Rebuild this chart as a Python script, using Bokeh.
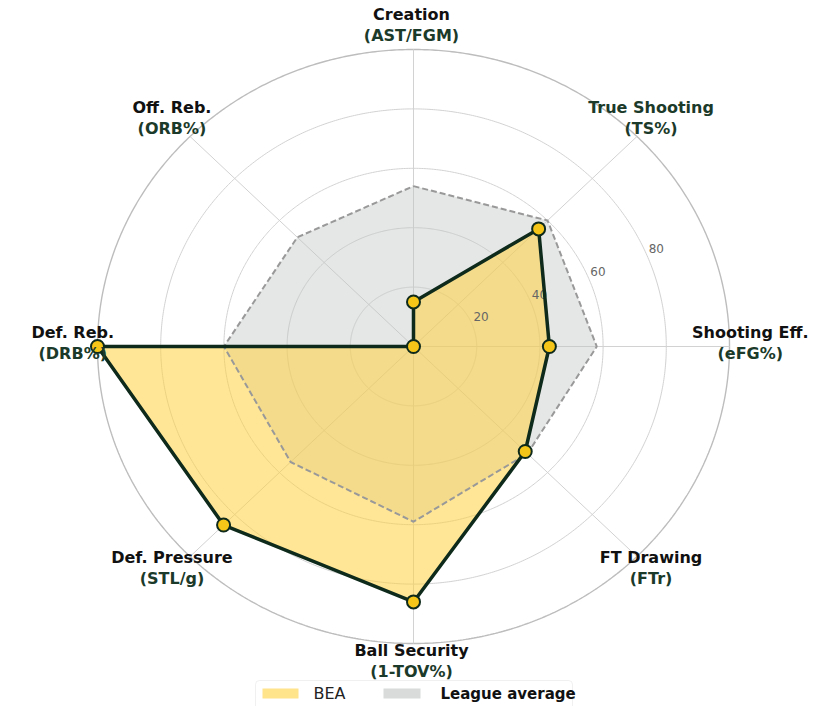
import numpy as np
from bokeh.plotting import figure
from bokeh.models import Range1d, BoxAnnotation
from bokeh.embed import file_html
from bokeh.resources import INLINE
from bokeh.core.properties import value

# ---------------- data ----------------
categories = ["Creation", "True Shooting", "Shooting Eff.", "FT Drawing",
              "Ball Security", "Def. Pressure", "Def. Reb.", "Off. Reb."]
subtitles = ["(AST/FGM)", "(TS%)", "(eFG%)", "(FTr)",
             "(1-TOV%)", "(STL/g)", "(DRB%)", "(ORB%)"]
bea_values = [15, 56, 43, 50, 86, 85, 100, 0]
league_values = [54, 60, 58, 51, 59, 55, 60, 52]
ring_values = [20, 40, 60, 80]
tick_labels = ["20", "40", "60", "80"]
series_names = ["BEA", "League average"]

# ---------------- geometry ----------------
W, H = 825, 706
SX, SY = 3.16, 2.97          # pixels per unit (x, y)
CXP, CYP = 413, 346          # pixel of centre
X0 = -CXP / SX
X1 = X0 + W / SX
Y1 = CYP / SY
Y0 = Y1 - H / SY


def dx(px):
    return X0 + px / SX


def dy(py):
    return Y1 - py / SY


n = len(categories)
ang = np.deg2rad(90 - 45 * np.arange(n))
cosA, sinA = np.cos(ang), np.sin(ang)

FONT = value("DejaVu Sans")
DARK = "#0E2A1B"
SUBC = "#1B3A2A"

p = figure(width=W, height=H, x_range=Range1d(X0, X1), y_range=Range1d(Y0, Y1),
           output_backend="svg", toolbar_location=None, min_border=0,
           x_axis_type=None, y_axis_type=None)
p.grid.visible = False
p.outline_line_color = None
p.background_fill_color = "white"
p.border_fill_color = "white"

# grid rings
t = np.linspace(0, 2 * np.pi, 721)
for v in ring_values:
    p.line(v * np.cos(t), v * np.sin(t), line_color="#d2d2d2", line_width=1)
p.line(100 * np.cos(t), 100 * np.sin(t), line_color="#bdbdbd", line_width=1.4)
# spokes
p.segment(x0=np.zeros(n), y0=np.zeros(n), x1=100 * cosA, y1=100 * sinA,
          line_color="#d2d2d2", line_width=1)

lv = np.array(league_values, dtype=float)
bv = np.array(bea_values, dtype=float)
# league fill
p.patch(lv * cosA, lv * sinA, fill_color="#BFC1C1", fill_alpha=0.4, line_color=None)
# BEA fill
p.patch(bv * cosA, bv * sinA, fill_color="#FFD23F", fill_alpha=0.55, line_color=None)

# radial tick labels
ta = np.deg2rad(22.5)
rv = np.array(ring_values) + 3.5
p.text(x=rv * np.cos(ta) - 1 / SX, y=rv * np.sin(ta) + 3 / SY, text=tick_labels,
       text_font=FONT, text_font_size="12px", text_color="#666666",
       text_align="center", text_baseline="middle")

# league dashed line
lx = np.append(lv * cosA, lv[0] * cosA[0])
ly = np.append(lv * sinA, lv[0] * sinA[0])
p.line(lx, ly, line_color="#999999", line_width=2, line_dash="6 3")

# BEA line
bx = np.append(bv * cosA, bv[0] * cosA[0])
by = np.append(bv * sinA, bv[0] * sinA[0])
p.line(bx, by, line_color=DARK, line_width=3.5, line_join="round")
p.scatter(bv * cosA, bv * sinA, size=13, fill_color="#F5C518",
          line_color=DARK, line_width=2)

# category labels
LR = 107.2
lx0 = LR * cosA - 2 / SX
ly0 = LR * sinA + 3.5 / SY
name_colors = [SUBC if c == "True Shooting" else "#111111" for c in categories]
p.text(x=lx0, y=ly0 + 10.5 / SY, text=categories, text_color=name_colors,
       text_font=FONT, text_font_size="16px", text_font_style="bold",
       text_align="center", text_baseline="middle")
p.text(x=lx0, y=ly0 - 10.5 / SY, text=subtitles, text_color=SUBC,
       text_font=FONT, text_font_size="16px", text_font_style="bold",
       text_align="center", text_baseline="middle")

# legend (manual)
box = BoxAnnotation(left=dx(255), right=dx(572), top=dy(680), bottom=dy(716),
                    fill_color="white", fill_alpha=1.0, line_color="#cccccc",
                    line_width=1, border_radius=4, level="underlay")
p.add_layout(box)
p.quad(left=[dx(262)], right=[dx(298)], top=[dy(688)], bottom=[dy(698)],
       fill_color="#FFD23F", fill_alpha=0.6, line_color=None)
p.quad(left=[dx(383)], right=[dx(420)], top=[dy(688)], bottom=[dy(698)],
       fill_color="#BFC1C1", fill_alpha=0.6, line_color=None)
p.text(x=[dx(313)], y=[dy(693)], text=[series_names[0]], text_color="#222222",
       text_font=FONT, text_font_size="16px", text_align="left",
       text_baseline="middle")
p.text(x=[dx(440)], y=[dy(693)], text=[series_names[1]], text_color="#111111",
       text_font=FONT, text_font_size="15px", text_font_style="bold",
       text_align="left", text_baseline="middle")

open("out.html", "w").write(file_html(p, INLINE))
